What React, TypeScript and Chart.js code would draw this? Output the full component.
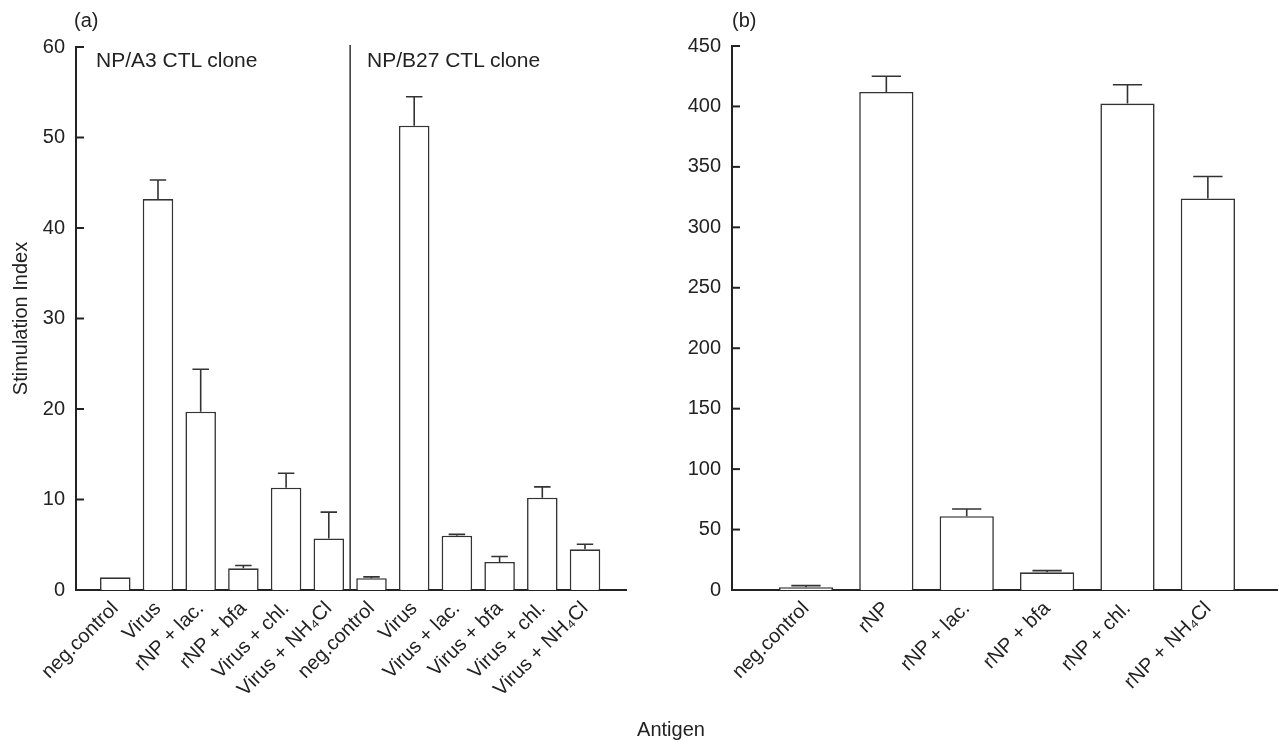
import React, { useEffect, useRef } from "react";
import { Chart, registerables } from "chart.js";

Chart.register(...registerables);

const FONT = "'Liberation Sans', Arial, Helvetica, sans-serif";
const INK = "#222";

// Panel (a)
const aLabels = [
  "neg.control",
  "Virus",
  "rNP + lac.",
  "rNP + bfa",
  "Virus + chl.",
  "Virus + NH\u2084Cl",
  "neg.control",
  "Virus",
  "Virus + lac.",
  "Virus + bfa",
  "Virus + chl.",
  "Virus + NH\u2084Cl",
];
const aValues = [1.4, 43.2, 19.7, 2.4, 11.3, 5.7, 1.3, 51.3, 6.0, 3.1, 10.2, 4.5];
const aErrTop = [1.4, 45.3, 24.4, 2.7, 12.9, 8.6, 1.45, 54.5, 6.15, 3.7, 11.4, 5.05];
const aTicks = [0, 10, 20, 30, 40, 50, 60];

// Panel (b)
const bLabels = [
  "neg.control",
  "rNP",
  "rNP + lac.",
  "rNP + bfa",
  "rNP + chl.",
  "rNP + NH\u2084Cl",
];
const bValues = [2.2, 412, 61, 14.6, 402.4, 323.9];
const bErrTop = [3.6, 425, 67, 16, 418, 342];
const bTicks = [0, 50, 100, 150, 200, 250, 300, 350, 400, 450];

function makeErrorPlugin(errTop: number[], capRatio: number) {
  return {
    id: "errbars",
    afterDatasetsDraw(chart: any) {
      const meta = chart.getDatasetMeta(0);
      const ys = chart.scales.y;
      const ctx = chart.ctx;
      ctx.save();
      ctx.strokeStyle = "#333";
      ctx.lineWidth = 1.6;
      meta.data.forEach((el: any, i: number) => {
        const v = (chart.data.datasets[0].data[i] as any).y;
        if (errTop[i] <= v) return;
        const top = ys.getPixelForValue(errTop[i]);
        const cap = el.width * capRatio;
        ctx.beginPath();
        ctx.moveTo(el.x, el.y);
        ctx.lineTo(el.x, top);
        ctx.moveTo(el.x - cap / 2, top);
        ctx.lineTo(el.x + cap / 2, top);
        ctx.stroke();
      });
      ctx.restore();
    },
  };
}

const innerTicksPlugin = {
  id: "innerTicks",
  afterDraw(chart: any) {
    const ys = chart.scales.y;
    const ctx = chart.ctx;
    ctx.save();
    ctx.strokeStyle = INK;
    ctx.lineWidth = 2;
    ys.ticks.forEach((t: any) => {
      const y = ys.getPixelForValue(t.value);
      ctx.beginPath();
      ctx.moveTo(chart.chartArea.left - 1, y);
      ctx.lineTo(chart.chartArea.left + 8, y);
      ctx.stroke();
    });
    ctx.restore();
  },
};

const separatorPlugin = {
  id: "separator",
  afterDraw(chart: any) {
    const xs = chart.scales.x;
    const ys = chart.scales.y;
    const ctx = chart.ctx;
    const x = xs.getPixelForValue(5.5);
    ctx.save();
    ctx.strokeStyle = "#333";
    ctx.lineWidth = 1.5;
    ctx.beginPath();
    ctx.moveTo(x, ys.getPixelForValue(60) - 2);
    ctx.lineTo(x, ys.getPixelForValue(0));
    ctx.stroke();
    ctx.restore();
  },
};

function buildConfig(opts: {
  labels: string[];
  values: number[];
  errTop: number[];
  ticks: number[];
  xMin: number;
  xMax: number;
  yMax: number;
  yWidth: number;
  padTop: number;
  padRight: number;
  barPct: number;
  capRatio: number;
  yTitle?: string;
  extraPlugins: any[];
}): any {
  const { labels, values, errTop, ticks } = opts;
  return {
    type: "bar",
    data: {
      datasets: [
        {
          data: values.map((v, i) => ({ x: i, y: v })),
          backgroundColor: "#ffffff",
          borderColor: "#333",
          borderWidth: 1.6,
          barPercentage: opts.barPct,
          categoryPercentage: 1,
        },
      ],
    },
    options: {
      animation: false,
      responsive: false,
      devicePixelRatio: 1,
      layout: { padding: { top: opts.padTop, right: opts.padRight, left: 0, bottom: 0 } },
      plugins: { legend: { display: false }, tooltip: { enabled: false } },
      scales: {
        x: {
          type: "linear",
          min: opts.xMin,
          max: opts.xMax,
          offset: false,
          afterBuildTicks: (s: any) => {
            s.ticks = labels.map((_, i) => ({ value: i }));
          },
          afterFit: (s: any) => {
            s.height = 154;
          },
          grid: { display: false, drawTicks: false },
          border: { display: true, width: 2, color: INK },
          ticks: {
            autoSkip: false,
            minRotation: 45,
            maxRotation: 45,
            padding: 7,
            color: INK,
            font: { family: FONT, size: 20 },
            callback: (v: any) => labels[Math.round(v)] ?? "",
          },
        },
        y: {
          min: 0,
          max: opts.yMax,
          afterBuildTicks: (s: any) => {
            s.ticks = ticks.map((t) => ({ value: t }));
          },
          afterFit: (s: any) => {
            s.width = opts.yWidth;
          },
          grid: { display: false, drawTicks: false },
          border: { display: true, width: 2, color: INK },
          ticks: {
            padding: 11,
            color: INK,
            font: { family: FONT, size: 20 },
          },
          title: opts.yTitle
            ? {
                display: true,
                text: opts.yTitle,
                color: INK,
                font: { family: FONT, size: 20 },
                padding: { top: 9, bottom: 0 },
              }
            : { display: false },
        },
      },
    },
    plugins: [makeErrorPlugin(errTop, opts.capRatio), innerTicksPlugin, ...opts.extraPlugins],
  };
}

export default function App() {
  const refA = useRef<HTMLCanvasElement>(null);
  const refB = useRef<HTMLCanvasElement>(null);

  useEffect(() => {
    Chart.defaults.font.family = FONT;
    const a = new Chart(
      refA.current as HTMLCanvasElement,
      buildConfig({
        labels: aLabels,
        values: aValues,
        errTop: aErrTop,
        ticks: aTicks,
        xMin: -0.92,
        xMax: 11.96,
        yMax: 60,
        yWidth: 76,
        padTop: 47,
        padRight: 14,
        barPct: 0.715,
        capRatio: 0.54,
        yTitle: "Stimulation Index",
        extraPlugins: [separatorPlugin],
      })
    );
    const b = new Chart(
      refB.current as HTMLCanvasElement,
      buildConfig({
        labels: bLabels,
        values: bValues,
        errTop: bErrTop,
        ticks: bTicks,
        xMin: -0.92,
        xMax: 5.86,
        yMax: 450,
        yWidth: 92,
        padTop: 46,
        padRight: 2,
        barPct: 0.675,
        capRatio: 0.54,
        extraPlugins: [],
      })
    );
    return () => {
      a.destroy();
      b.destroy();
    };
  }, []);

  const txt: React.CSSProperties = {
    position: "absolute",
    fontFamily: FONT,
    fontSize: 20,
    lineHeight: "20px",
    color: INK,
    whiteSpace: "nowrap",
  };

  return (
    <div
      style={{
        position: "absolute",
        left: 0,
        top: 0,
        width: 1279,
        height: 744,
        background: "#fff",
        overflow: "hidden",
      }}
    >
      <canvas
        ref={refA}
        width={640}
        height={744}
        style={{ position: "absolute", left: 0, top: 0, display: "block" }}
      />
      <canvas
        ref={refB}
        width={639}
        height={744}
        style={{ position: "absolute", left: 640, top: 0, display: "block" }}
      />
      <div style={{ ...txt, left: 74, top: 10 }}>(a)</div>
      <div style={{ ...txt, left: 732, top: 10 }}>(b)</div>
      <div style={{ ...txt, left: 96, top: 49, fontSize: 21, lineHeight: "21px" }}>NP/A3 CTL clone</div>
      <div style={{ ...txt, left: 367, top: 49, fontSize: 21, lineHeight: "21px" }}>NP/B27 CTL clone</div>
      <div style={{ ...txt, left: 671, top: 719, transform: "translateX(-50%)" }}>Antigen</div>
    </div>
  );
}
